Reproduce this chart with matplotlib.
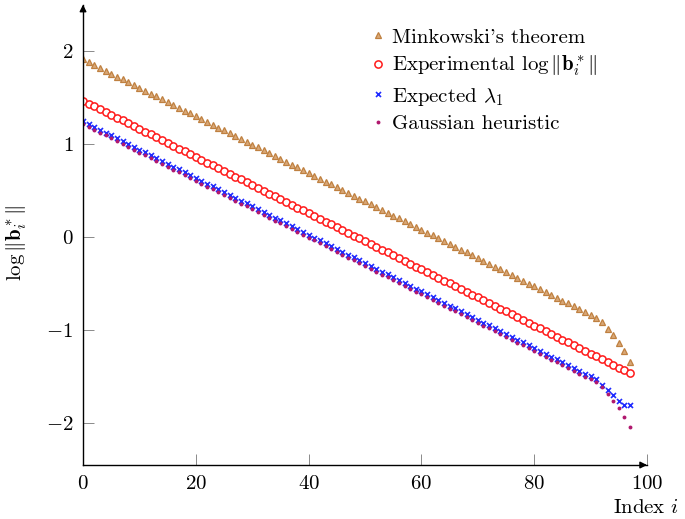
import numpy as np
import matplotlib.pyplot as plt

plt.rcParams['font.family'] = 'serif'
plt.rcParams['font.serif'] = ['cmr10']
plt.rcParams['mathtext.fontset'] = 'cm'
plt.rcParams['axes.formatter.use_mathtext'] = True

index = np.arange(98)

minkowski = [
    1.910, 1.880, 1.849, 1.818, 1.788, 1.757, 1.727, 1.696, 1.666, 1.635,
    1.605, 1.574, 1.544, 1.513, 1.483, 1.452, 1.422, 1.391, 1.361, 1.330,
    1.300, 1.269, 1.239, 1.208, 1.178, 1.147, 1.117, 1.086, 1.056, 1.025,
    0.995, 0.964, 0.934, 0.903, 0.873, 0.842, 0.812, 0.781, 0.751, 0.720,
    0.690, 0.659, 0.629, 0.598, 0.568, 0.537, 0.507, 0.476, 0.446, 0.415,
    0.385, 0.354, 0.324, 0.293, 0.263, 0.232, 0.202, 0.171, 0.141, 0.110,
    0.080, 0.049, 0.019, -0.012, -0.042, -0.073, -0.103, -0.134, -0.164, -0.195,
    -0.225, -0.256, -0.286, -0.317, -0.347, -0.378, -0.408, -0.439, -0.469, -0.500,
    -0.530, -0.561, -0.591, -0.622, -0.652, -0.683, -0.713, -0.744, -0.774, -0.805,
    -0.835, -0.866, -0.917, -0.986, -1.057, -1.137, -1.229, -1.341,
]

experimental = [
    1.466, 1.436, 1.406, 1.375, 1.345, 1.315, 1.285, 1.255, 1.224, 1.194,
    1.164, 1.134, 1.104, 1.073, 1.043, 1.013, 0.983, 0.953, 0.922, 0.892,
    0.862, 0.832, 0.802, 0.771, 0.741, 0.711, 0.681, 0.651, 0.620, 0.590,
    0.560, 0.530, 0.500, 0.469, 0.439, 0.409, 0.379, 0.349, 0.318, 0.288,
    0.258, 0.228, 0.198, 0.167, 0.137, 0.107, 0.077, 0.047, 0.016, -0.014,
    -0.044, -0.074, -0.104, -0.135, -0.165, -0.195, -0.225, -0.255, -0.286, -0.316,
    -0.346, -0.376, -0.406, -0.437, -0.467, -0.497, -0.527, -0.557, -0.588, -0.618,
    -0.648, -0.678, -0.708, -0.739, -0.769, -0.799, -0.829, -0.859, -0.890, -0.920,
    -0.950, -0.980, -1.010, -1.041, -1.071, -1.101, -1.131, -1.161, -1.192, -1.222,
    -1.252, -1.282, -1.312, -1.343, -1.373, -1.403, -1.433, -1.463,
]

expected = [
    1.247, 1.217, 1.186, 1.156, 1.125, 1.095, 1.064, 1.034, 1.003, 0.973,
    0.942, 0.912, 0.881, 0.851, 0.820, 0.790, 0.759, 0.729, 0.698, 0.668,
    0.637, 0.607, 0.576, 0.546, 0.515, 0.485, 0.454, 0.424, 0.393, 0.363,
    0.332, 0.302, 0.271, 0.241, 0.210, 0.180, 0.149, 0.119, 0.088, 0.058,
    0.027, -0.004, -0.034, -0.065, -0.095, -0.126, -0.156, -0.187, -0.217, -0.248,
    -0.278, -0.309, -0.339, -0.370, -0.400, -0.431, -0.461, -0.492, -0.522, -0.553,
    -0.583, -0.614, -0.644, -0.675, -0.705, -0.736, -0.766, -0.797, -0.827, -0.858,
    -0.888, -0.919, -0.949, -0.980, -1.010, -1.041, -1.071, -1.102, -1.132, -1.163,
    -1.193, -1.224, -1.254, -1.285, -1.315, -1.346, -1.376, -1.407, -1.437, -1.468,
    -1.498, -1.529, -1.588, -1.645, -1.702, -1.760, -1.810, -1.810,
]

gaussian = [
    1.215, 1.185, 1.154, 1.124, 1.093, 1.063, 1.032, 1.002, 0.971, 0.941,
    0.910, 0.880, 0.849, 0.819, 0.788, 0.758, 0.727, 0.697, 0.666, 0.636,
    0.605, 0.575, 0.544, 0.514, 0.483, 0.453, 0.422, 0.392, 0.361, 0.331,
    0.300, 0.270, 0.239, 0.209, 0.178, 0.148, 0.117, 0.087, 0.056, 0.026,
    -0.005, -0.036, -0.066, -0.097, -0.127, -0.158, -0.188, -0.219, -0.249, -0.280,
    -0.310, -0.341, -0.371, -0.402, -0.432, -0.463, -0.493, -0.524, -0.554, -0.585,
    -0.615, -0.646, -0.676, -0.707, -0.737, -0.768, -0.798, -0.829, -0.859, -0.890,
    -0.920, -0.951, -0.981, -1.012, -1.042, -1.073, -1.103, -1.134, -1.164, -1.195,
    -1.225, -1.256, -1.286, -1.317, -1.347, -1.378, -1.408, -1.439, -1.469, -1.500,
    -1.530, -1.561, -1.616, -1.688, -1.760, -1.839, -1.932, -2.040,
]

fig = plt.figure(figsize=(6.85, 5.19), dpi=100)
ax = fig.add_axes([0.1212, 0.1040, 0.8234, 0.8871])

ax.plot(index, minkowski, ls='none', marker='^', ms=4.6, mfc='#d9a877',
        mec='#bf8040', mew=0.9, label="Minkowski's theorem")
ax.plot(index, experimental, ls='none', marker='o', ms=5.2, mfc='white',
        mec='#ff1a1a', mew=1.1, label=r'Experimental $\log\|\mathbf{b}_i^*\|$')
ax.plot(index, expected, ls='none', marker='x', ms=3.6, color='#1f2bff',
        mew=1.2, label=r'Expected $\lambda_1$')
ax.plot(index, gaussian, ls='none', marker='o', ms=2.8, color='#b0186e',
        mec='none', label='Gaussian heuristic')

ax.set_xlim(0, 100)
ax.set_ylim(-2.45, 2.5)
ax.set_xticks([0, 20, 40, 60, 80, 100])
ax.set_yticks([-2, -1, 0, 1, 2])
ax.tick_params(direction='in', length=8, width=0.6, color='#777777',
               labelsize=15, pad=7)

for s in ['top', 'right']:
    ax.spines[s].set_visible(False)
for s in ['left', 'bottom']:
    ax.spines[s].set_linewidth(1.0)

# arrow heads on the axes
ax.annotate('', xy=(1.0, 0), xytext=(0.99, 0), xycoords='axes fraction',
            arrowprops=dict(arrowstyle='-|>', color='black', lw=1.0,
                            mutation_scale=10, shrinkA=0, shrinkB=0))
ax.annotate('', xy=(0, 1.0), xytext=(0, 0.99), xycoords='axes fraction',
            arrowprops=dict(arrowstyle='-|>', color='black', lw=1.0,
                            mutation_scale=10, shrinkA=0, shrinkB=0))

ax.text(0.998, -0.093, r'Index $i$', transform=ax.transAxes,
        ha='center', va='center', fontsize=15)
ax.text(-0.117, 0.483, r'$\log\|\mathbf{b}_i^*\|$', transform=ax.transAxes,
        ha='center', va='center', rotation=90, fontsize=15)

ax.legend(loc='upper left', bbox_to_anchor=(0.512, 0.949), frameon=False,
          fontsize=15, handlelength=0.6, handletextpad=0.35,
          labelspacing=0.35, borderaxespad=0, borderpad=0)

fig.savefig('out.png', dpi=100)
